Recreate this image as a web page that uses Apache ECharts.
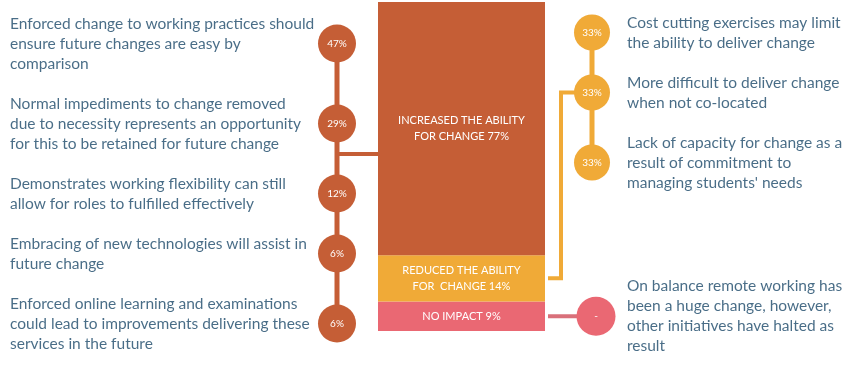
<!DOCTYPE html>
<html><head><meta charset="utf-8">
<script src="https://cdn.jsdelivr.net/npm/echarts@6/dist/echarts.min.js"></script>
<style>html,body{margin:0;padding:0;background:#fff}#c{width:861px;height:367px}</style>
</head><body><div id="c"></div>
<script>
// ---- data ----
const impactCategories = ['NO IMPACT', 'REDUCED THE ABILITY\nFOR  CHANGE', 'INCREASED THE ABILITY\nFOR CHANGE'];
const impactValues = [9, 14, 77];

const increasedReasons = [
  'Enforced change to working practices should\nensure future changes are easy by\ncomparison',
  'Normal impediments to change removed\ndue to necessity represents an opportunity\nfor this to be retained for future change',
  'Demonstrates working flexibility can still\nallow for roles to fulfilled effectively',
  'Embracing of new technologies will assist in\nfuture change',
  'Enforced online learning and examinations\ncould lead to improvements delivering these\nservices in the future'
];
const increasedShares = ['47%', '29%', '12%', '6%', '6%'];

const reducedReasons = [
  'Cost cutting exercises may limit\nthe ability to deliver change',
  'More difficult to deliver change\nwhen not co-located',
  "Lack of capacity for change as a\nresult of commitment to\nmanaging students' needs"
];
const reducedShares = ['33%', '33%', '33%'];

const noImpactReasons = ['On balance remote working has\nbeen a huge change, however,\nother initiatives have halted as\nresult'];
const noImpactShares = ['-'];

// ---- layout / style ----
const W = 861, H = 367;
const BAR = { x0: 378, x1: 545, y0: 2, y1: 331 };
const LINE_H = 20;
const FONT = 'Lato, "Open Sans", sans-serif';
const TEXT_COLOR = '#1b4869';
const C_INC = '#c55e36', C_RED = '#f0aa37', C_NO = '#ea6873', C_NO_LINE = '#d9707a';
const colors = [C_NO, C_RED, C_INC];

function blockCenters(texts, firstLineY) {
  let line = 0;
  return texts.map(t => {
    const n = t.split('\n').length;
    const c = firstLineY + LINE_H * (line + (n - 1) / 2);
    line += n + 1;
    return c;
  });
}
function segMid(i) {
  const below = impactValues.slice(0, i).reduce((a, b) => a + b, 0);
  const mid = below + impactValues[i] / 2;
  return BAR.y1 - mid / 100 * (BAR.y1 - BAR.y0);
}

const leftY = blockCenters(increasedReasons, 23.5);
const rightY = blockCenters(reducedReasons, 22.5);
const pinkY = segMid(0);
const yellowY = segMid(1);
const LX = 337, RX = 592, PX = 596, BRX = 561;
const LEFT_CONN_Y = 154;

function textSeries(texts, ys, x) {
  return {
    type: 'scatter', xAxisIndex: 1, yAxisIndex: 1, symbolSize: 1, silent: true,
    itemStyle: { color: 'transparent' }, z: 5,
    data: texts.map((t, i) => ({ value: [x, ys[i]], label: { formatter: t } })),
    label: { show: true, position: 'inside', align: 'left', verticalAlign: 'middle',
      color: TEXT_COLOR, fontSize: 15.5, lineHeight: LINE_H, fontFamily: FONT }
  };
}
function circleSeries(shares, ys, x, color, size) {
  return {
    type: 'scatter', xAxisIndex: 1, yAxisIndex: 1, symbolSize: size, silent: true, z: 6,
    itemStyle: { color: color, opacity: 1 },
    data: shares.map((s, i) => ({ value: [x, ys[i]], label: { formatter: s } })),
    label: { show: true, position: 'inside', color: '#fff', fontSize: 10, fontFamily: FONT }
  };
}
function lineSeries(points, color, width) {
  return {
    type: 'line', xAxisIndex: 1, yAxisIndex: 1, symbol: 'none', silent: true, z: 3,
    lineStyle: { color: color, width: width, cap: 'butt', join: 'miter' },
    data: points
  };
}

const chart = echarts.init(document.getElementById('c'), null, { renderer: 'canvas' });
const barSeries = impactValues.map((v, i) => ({
  type: 'bar', stack: 'impact', xAxisIndex: 0, yAxisIndex: 0, barWidth: '100%',
  data: [v], itemStyle: { color: colors[i] }, silent: true, z: 2,
  label: { show: true, position: 'inside', color: '#fff', fontSize: 11, lineHeight: 16,
    fontFamily: FONT, formatter: impactCategories[i] + ' ' + v + '%' }
}));

chart.setOption({
  animation: false,
  backgroundColor: '#fff',
  grid: [
    { left: BAR.x0, top: BAR.y0, width: BAR.x1 - BAR.x0, height: BAR.y1 - BAR.y0 },
    { left: 0, top: 0, width: W, height: H }
  ],
  xAxis: [
    { type: 'category', gridIndex: 0, data: ['Impact'], show: false },
    { type: 'value', gridIndex: 1, min: 0, max: W, show: false }
  ],
  yAxis: [
    { type: 'value', gridIndex: 0, min: 0, max: 100, show: false },
    { type: 'value', gridIndex: 1, min: 0, max: H, inverse: true, show: false }
  ],
  series: [
    ...barSeries,
    lineSeries([[LX, leftY[0]], [LX, leftY[leftY.length - 1]]], C_INC, 5),
    lineSeries([[LX, LEFT_CONN_Y], [BAR.x0, LEFT_CONN_Y]], C_INC, 4),
    lineSeries([[RX, rightY[0]], [RX, rightY[rightY.length - 1]]], C_RED, 5),
    lineSeries([[RX, rightY[1]], [BRX, rightY[1]], [BRX, yellowY], [BAR.x1 + 3, yellowY]], C_RED, 4),
    lineSeries([[BAR.x1 + 3, pinkY], [PX, pinkY]], C_NO_LINE, 4),
    circleSeries(increasedShares, leftY, LX, C_INC, 38),
    circleSeries(reducedShares, rightY, RX, C_RED, 36),
    circleSeries(noImpactShares, [pinkY], PX, C_NO, 39),
    textSeries(increasedReasons, leftY, 10),
    textSeries(reducedReasons, rightY, 627),
    textSeries(noImpactReasons, [pinkY], 627)
  ]
});
</script></body></html>
